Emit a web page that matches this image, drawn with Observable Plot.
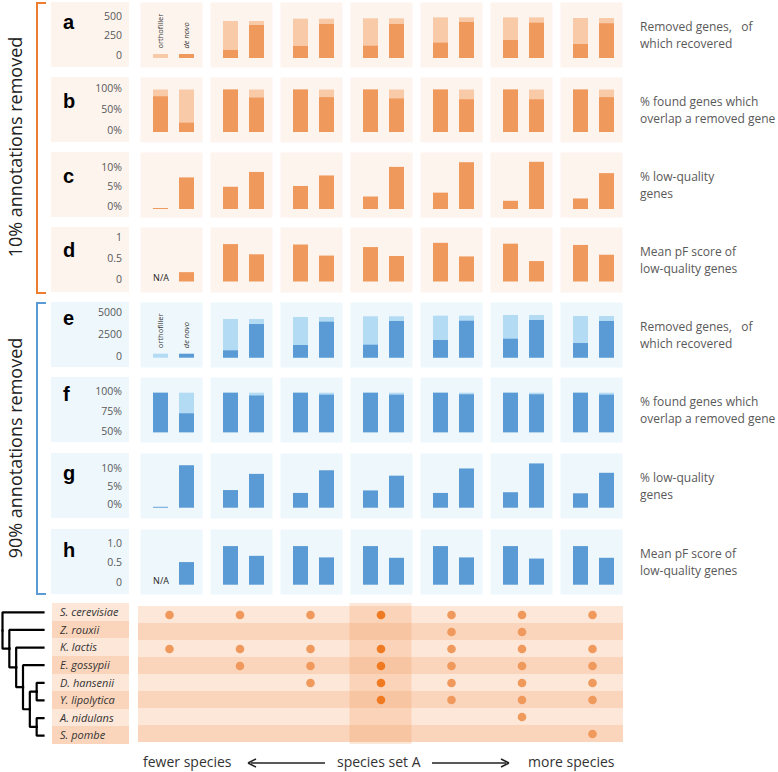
<!DOCTYPE html>
<html>
<head>
<meta charset="utf-8">
<script src="https://cdn.jsdelivr.net/npm/d3@7"></script>
<script src="https://cdn.jsdelivr.net/npm/@observablehq/plot@0.6"></script>
<style>
  html, body { margin: 0; padding: 0; background: #fff; }
  #chart { position: relative; width: 778px; height: 772px; background: #fff; font-family: "Open Sans", sans-serif; overflow: hidden; }
  .abs { position: absolute; }
  .box { position: absolute; }
  .letter { position: absolute; font-family: "Liberation Sans", Arial, sans-serif; font-weight: bold; font-size: 20px; line-height: 20px; color: #000; }
  .rlab { position: absolute; font-size: 12px; line-height: 17px; color: #595959; white-space: pre; }
  .vlab { position: absolute; width: 280px; height: 24px; line-height: 24px; text-align: center; font-size: 18px; color: #222; transform: rotate(-90deg); transform-origin: 50% 50%; }
  .sp { position: absolute; font-style: italic; font-size: 11px; color: #333; padding-left: 8px; box-sizing: border-box; }
  .bt { position: absolute; font-size: 14px; line-height: 20px; color: #333; white-space: nowrap; }
</style>
</head>
<body>
<div id="chart"></div>
<script>
// ---------------- DATA ----------------
const columns = [1, 2, 3, 4, 5, 6, 7];          // species sets, fewer -> more species
const methods = ["orthofiller", "de novo"];
const setA = 4;                                  // "species set A"

// 10% annotations removed
const aRemoved              = [null, 474, 504, 509, 521, 521, 513];
const aRecoveredOrthofiller = [null, 103, 154, 158, 197, 231, 179];
const aRecoveredDeNovo      = [null, 423, 436, 436, 462, 453, 445];
const bFound                = [100, 100, 100, 100, 100, 100, 100];
const bOverlapOrthofiller   = [84, 100, 100, 100, 100, 100, 100];
const bOverlapDeNovo        = [22, 81, 82, 79, 77, 77, 82];
const cLowQualOrthofiller   = [0.25, 5.7, 5.9, 3.2, 4.2, 2.1, 2.7];
const cLowQualDeNovo        = [8.1, 9.5, 8.6, 10.8, 12.0, 12.1, 9.2];
const dMeanPFOrthofiller    = [null, 0.88, 0.87, 0.81, 0.91, 0.89, 0.86];
const dMeanPFDeNovo         = [0.22, 0.64, 0.61, 0.60, 0.59, 0.48, 0.63];

// 90% annotations removed
const eRemoved              = [null, 4460, 4690, 4770, 4840, 4920, 4800];
const eRecoveredOrthofiller = [null, 850, 1460, 1500, 2040, 2190, 1690];
const eRecoveredDeNovo      = [null, 3880, 4150, 4230, 4260, 4340, 4230];
const fFound                = [100, 100, 100, 100, 100, 100, 100];
const fOverlapOrthofiller   = [100, 100, 100, 100, 100, 100, 100];
const fOverlapDeNovo        = [74, 96.5, 97.5, 97.5, 98, 98, 97.5];
const gLowQualOrthofiller   = [0.25, 4.9, 4.1, 4.8, 4.1, 4.3, 4.0];
const gLowQualDeNovo        = [11.8, 9.4, 10.4, 8.9, 10.9, 12.3, 9.7];
const hMeanPFOrthofiller    = [null, 0.99, 0.99, 0.99, 0.99, 0.99, 0.99];
const hMeanPFDeNovo         = [0.58, 0.74, 0.70, 0.69, 0.70, 0.67, 0.69];

// axis ticks and labels
const aTicks = [0, 250, 500],     aTickLabels = ["0", "250", "500"];
const bTicks = [0, 50, 100],      bTickLabels = ["0%", "50%", "100%"];
const cTicks = [0, 5, 10],        cTickLabels = ["0%", "5%", "10%"];
const dTicks = [0, 0.5, 1],       dTickLabels = ["0", "0.5", "1"];
const eTicks = [0, 2500, 5000],   eTickLabels = ["0", "2500", "5000"];
const fTicks = [50, 75, 100],     fTickLabels = ["50%", "75%", "100%"];
const gTicks = [0, 5, 10],        gTickLabels = ["0%", "5%", "10%"];
const hTicks = [0, 0.5, 1],       hTickLabels = ["0", "0.5", "1.0"];

// row descriptions
const labelRemoved  = ["Removed genes,   of", "which recovered"];
const labelOverlap  = ["% found genes which", "overlap a removed gene"];
const labelLowQual  = ["% low-quality", "genes"];
const labelMeanPF   = ["Mean pF score of", "low-quality genes"];
const groupLabels   = ["10% annotations removed", "90% annotations removed"];
const legendKeys    = [{method: "orthofiller", tone: "light"}, {method: "de novo", tone: "dark"}];
const naText        = "N/A";

// species, tree and species sets
const species = ["S. cerevisiae", "Z. rouxii", "K. lactis", "E. gossypii", "D. hansenii", "Y. lipolytica", "A. nidulans", "S. pombe"];
const treePaths = [
  "root", "root/n1", "root/n1/n2", "root/n1/n2/n3", "root/n1/n2/n3/n4",
  "root/n1/n2/n3/n4/n5", "root/n1/n2/n3/n4/n5/S. cerevisiae", "root/n1/n2/n3/n4/n5/Z. rouxii",
  "root/n1/n2/n3/n4/n6", "root/n1/n2/n3/n4/n6/K. lactis", "root/n1/n2/n3/n4/n6/E. gossypii",
  "root/n1/n2/n3/D. hansenii", "root/n1/n2/Y. lipolytica", "root/n1/A. nidulans", "root/S. pombe"
];
const speciesSets = [
  ["S. cerevisiae", "K. lactis"],
  ["S. cerevisiae", "K. lactis", "E. gossypii"],
  ["S. cerevisiae", "K. lactis", "E. gossypii", "D. hansenii"],
  ["S. cerevisiae", "K. lactis", "E. gossypii", "D. hansenii", "Y. lipolytica"],
  ["S. cerevisiae", "Z. rouxii", "K. lactis", "E. gossypii", "D. hansenii", "Y. lipolytica"],
  ["S. cerevisiae", "Z. rouxii", "K. lactis", "E. gossypii", "D. hansenii", "Y. lipolytica", "A. nidulans"],
  ["S. cerevisiae", "K. lactis", "E. gossypii", "D. hansenii", "Y. lipolytica", "S. pombe"]
];
const axisWords = ["fewer species", "species set A", "more species"];

// ---------------- STYLE / LAYOUT ----------------
const palettes = {
  orange: {dark: "#f0995c", light: "#f9caa8", bg: "#fdf4ee", bracket: "#ed7d31"},
  blue:   {dark: "#5b9bd5", light: "#b3dbf4", bg: "#eef7fc", bracket: "#5b9bd5"}
};
const colPad = 0.121;
const plotW = 630, panelH = 65, mLeft = 138, mRight = 7;

const rowSpecs = [
  {key: "a", top: 2,   base: 56,   topPx: 17,   tickDy: -3,   letterY: 27, pal: "orange", total: aRemoved, orth: aRecoveredOrthofiller, dn: aRecoveredDeNovo, domain: [0, 500], ticks: aTicks, tl: aTickLabels, text: labelRemoved, legend: true},
  {key: "b", top: 77,  base: 55,   topPx: 12.5, tickDy: -1.5, letterY: 31, pal: "orange", total: bFound, orth: bOverlapOrthofiller, dn: bOverlapDeNovo, domain: [0, 100], ticks: bTicks, tl: bTickLabels, text: labelOverlap},
  {key: "c", top: 152, base: 57,   topPx: 18,   tickDy: -3,   letterY: 31, pal: "orange", orth: cLowQualOrthofiller, dn: cLowQualDeNovo, domain: [0, 10], ticks: cTicks, tl: cTickLabels, text: labelLowQual},
  {key: "d", top: 227, base: 54.5, topPx: 12,   tickDy: -2.3, letterY: 30, pal: "orange", orth: dMeanPFOrthofiller, dn: dMeanPFDeNovo, domain: [0, 1], ticks: dTicks, tl: dTickLabels, text: labelMeanPF, na: true},
  {key: "e", top: 302, base: 55.7, topPx: 12.3, tickDy: -2,   letterY: 22.5, pal: "blue", total: eRemoved, orth: eRecoveredOrthofiller, dn: eRecoveredDeNovo, domain: [0, 5000], ticks: eTicks, tl: eTickLabels, text: labelRemoved, legend: true},
  {key: "f", top: 377, base: 55.3, topPx: 15.7, tickDy: -1.5, letterY: 24, pal: "blue", total: fFound, orth: fOverlapOrthofiller, dn: fOverlapDeNovo, domain: [50, 100], ticks: fTicks, tl: fTickLabels, text: labelOverlap},
  {key: "g", top: 453, base: 54.7, topPx: 18.7, tickDy: -3.5, letterY: 27, pal: "blue", orth: gLowQualOrthofiller, dn: gLowQualDeNovo, domain: [0, 10], ticks: gTicks, tl: gTickLabels, text: labelLowQual},
  {key: "h", top: 529, base: 55.7, topPx: 16.7, tickDy: -3,   letterY: 28, pal: "blue", orth: hMeanPFOrthofiller, dn: hMeanPFDeNovo, domain: [0, 1], ticks: hTicks, tl: hTickLabels, text: labelMeanPF, na: true}
];

const chart = document.getElementById("chart");
function el(tag, cls, css, text) {
  const e = document.createElement(tag);
  if (cls) e.className = cls;
  Object.assign(e.style, css || {});
  if (text != null) e.textContent = text;
  chart.appendChild(e);
  return e;
}

// brackets and group labels
[[2, 290, palettes.orange.bracket, 147], [302, 291, palettes.blue.bracket, 447.5]].forEach(([top, h, col, cy], i) => {
  el("div", "abs", {left: "36px", top: top + "px", width: "8px", height: (h - 2) + "px",
    borderLeft: `2px solid ${col}`, borderTop: `2px solid ${col}`, borderBottom: `2px solid ${col}`});
  el("div", "vlab", {left: (15 - 140) + "px", top: (cy - 12) + "px"}, groupLabels[i]);
});

// rows
rowSpecs.forEach(spec => {
  const pal = palettes[spec.pal];
  el("div", "box", {left: "51px", top: spec.top + "px", width: "78px", height: panelH + "px", background: pal.bg});

  const rows = columns.flatMap((c, i) => [
    {col: c, method: "orthofiller", total: spec.total ? spec.total[i] : null, value: spec.orth[i]},
    {col: c, method: "de novo",     total: spec.total ? spec.total[i] : null, value: spec.dn[i]}
  ]);
  const floor = spec.domain[0];
  const yMax = spec.domain[1];
  const labelOf = new Map(spec.ticks.map((t, i) => [t, spec.tl[i]]));

  const marks = [Plot.frame({fill: pal.bg, stroke: "none"})];
  if (spec.total) marks.push(Plot.barY(rows.filter(d => d.total != null), {fx: "col", x: "method", y1: floor, y2: "total", fill: pal.light}));
  marks.push(Plot.barY(rows.filter(d => d.value != null), {fx: "col", x: "method", y1: floor, y2: "value", fill: pal.dark}));
  if (spec.legend) {
    const sw = yMax * 4 / (spec.base - spec.topPx);
    marks.push(Plot.barY(legendKeys, {fx: () => columns[0], x: "method", y1: 0, y2: () => sw, fill: d => d.tone === "light" ? pal.light : pal.dark}));
    marks.push(Plot.text(legendKeys.filter(d => d.method === "orthofiller"), {fx: () => columns[0], x: "method", y: 0, dy: -10, rotate: -90, textAnchor: "start", text: "method", fontSize: 7.5, fill: "#333"}));
    marks.push(Plot.text(legendKeys.filter(d => d.method === "de novo"), {fx: () => columns[0], x: "method", y: 0, dy: -10, rotate: -90, textAnchor: "start", text: "method", fontSize: 7.5, fontStyle: "italic", fill: "#333"}));
  }
  if (spec.na) {
    marks.push(Plot.text(rows.filter(d => d.value == null), {fx: "col", x: "method", y: 0, dy: -4, text: () => naText, fontSize: 9, fill: "#222"}));
  }
  marks.push(Plot.axisY({ticks: spec.ticks, tickFormat: d => labelOf.get(d), tickSize: 0, tickPadding: 18.5, dy: spec.tickDy, label: null, fontSize: 10.5}));

  const svg = Plot.plot({
    width: plotW, height: panelH,
    marginLeft: mLeft, marginRight: mRight, marginTop: 0, marginBottom: 0,
    style: {background: "transparent", color: "#595959", fontFamily: "Open Sans, sans-serif", fontSize: "10.5px", overflow: "visible"},
    fx: {domain: columns, paddingInner: colPad, paddingOuter: 0, axis: null, label: null},
    x: {domain: methods, paddingInner: 0.44, paddingOuter: 0.41, align: 0.6, axis: null},
    y: {domain: spec.domain, range: [spec.base, spec.topPx], label: null},
    marks
  });
  svg.style.position = "absolute";
  svg.style.left = "0px";
  svg.style.top = spec.top + "px";
  chart.appendChild(svg);

  el("div", "letter", {left: "63px", top: (spec.top + spec.letterY - 17) + "px"}, spec.key);
  const rl = el("div", "rlab", {left: "640px", top: (spec.top + 15.5) + "px"});
  rl.textContent = spec.text.join("\n");
});

// species label box
const mTop = 603, mH = 141, rowH = mH / species.length;
const rowLight = "#fde7d8", rowDark = "#fbd5bb";
species.forEach((s, i) => {
  el("div", "sp", {left: "52px", top: (mTop + i * rowH) + "px", width: "77px", height: rowH + "px",
    lineHeight: rowH + "px", background: i % 2 ? rowDark : rowLight}, s);
});

// tree
const tree = Plot.plot({
  width: 50, height: mH, margin: 0,
  style: {background: "transparent", overflow: "visible"},
  x: {axis: null, range: [2, 43]},
  y: {axis: null, range: [rowH / 2, mH - rowH / 2]},
  marks: [
    Plot.link(treePaths, Plot.treeLink({path: d => d, treeLayout: d3.cluster, treeSeparation: null,
      curve: "step-before", stroke: "#000", strokeOpacity: 1, strokeWidth: 2.2, strokeLinecap: "square"}))
  ]
});
tree.style.position = "absolute"; tree.style.left = "0px"; tree.style.top = mTop + "px";
chart.appendChild(tree);

// species-set matrix
const hw = (1 - colPad) / 2;
const members = columns.flatMap((c, i) => speciesSets[i].map(s => ({col: c, species: s})));
const matrix = Plot.plot({
  width: plotW, height: mH,
  marginLeft: mLeft, marginRight: mRight, marginTop: 0, marginBottom: 0,
  style: {background: "transparent"},
  x: {domain: [columns[0] - hw, columns[columns.length - 1] + hw], axis: null},
  y: {domain: species, type: "band", padding: 0, axis: null},
  color: {type: "identity"},
  marks: [
    Plot.barX(species, {y: d => d, x1: columns[0] - hw, x2: columns[columns.length - 1] + hw, fill: (d, i) => i % 2 ? rowDark : rowLight}),
    Plot.barX([setA], {x1: d => d - hw, x2: d => d + hw, fill: "#ef8640", fillOpacity: 0.2}),
    Plot.dot(members, {x: "col", y: "species", r: 4.3, fill: d => d.col === setA ? "#f07a22" : "#f0995c"})
  ]
});
matrix.style.position = "absolute"; matrix.style.left = "0px"; matrix.style.top = mTop + "px";
chart.appendChild(matrix);

// bottom axis words and arrows
el("div", "bt", {left: "143px", top: "752px"}, axisWords[0]);
el("div", "bt", {left: "337px", top: "752px"}, axisWords[1]);
el("div", "bt", {left: "528px", top: "752px"}, axisWords[2]);
const ns = "http://www.w3.org/2000/svg";
const arr = document.createElementNS(ns, "svg");
arr.setAttribute("width", 778); arr.setAttribute("height", 772);
Object.assign(arr.style, {position: "absolute", left: "0px", top: "0px", pointerEvents: "none"});
arr.innerHTML = `
  <line x1="251" y1="763" x2="325" y2="763" stroke="#222" stroke-width="1.5"/>
  <path d="M248,763 L256,759 M248,763 L256,767" stroke="#222" stroke-width="1.5" fill="none"/>
  <line x1="432" y1="763" x2="506" y2="763" stroke="#222" stroke-width="1.5"/>
  <path d="M509,763 L501,759 M509,763 L501,767" stroke="#222" stroke-width="1.5" fill="none"/>`;
chart.appendChild(arr);
</script>
</body>
</html>
